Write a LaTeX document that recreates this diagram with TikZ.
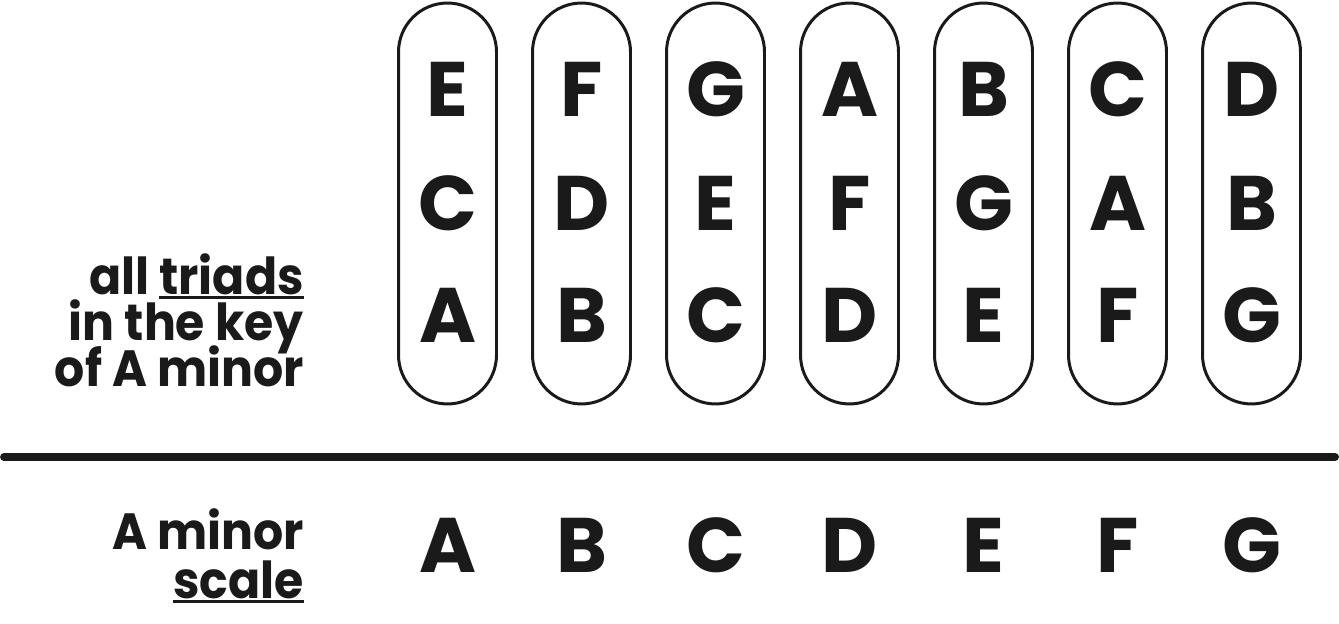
\documentclass[tikz,border=0pt]{standalone}
\usepackage{fontspec}
\setmainfont{Poppins}
\newfontfamily\sidefont{Poppins}[FakeStretch=0.93]
\usepackage{tikz}
\usetikzlibrary{calc}
\definecolor{ink}{HTML}{1A1A1A}
\tikzstyle{pill}=[draw=ink, line width=1.7pt, rounded corners=0.98cm, minimum width=1.96cm, minimum height=8.02cm, inner sep=0pt]
\tikzstyle{notename}=[text=ink, font=\fontsize{44}{44}\selectfont\bfseries, anchor=base, inner sep=0pt]
\tikzstyle{sidetext}=[text=ink, font=\fontsize{29}{29}\sidefont\bfseries, anchor=base east, inner sep=0pt]
\newcommand{\ulword}[1]{\setbox0\hbox{#1}\rlap{\color{ink}\rule[-2.3pt]{\wd0}{1.7pt}}\box0}

\begin{document}
\begin{tikzpicture}[x=0.02cm, y=-0.02cm]
\useasboundingbox (0,0) rectangle (1339,624);
% one pill per triad, root at the bottom
\foreach \ft/\td/\rt [count=\i from 0] in {E/C/A, F/D/B, G/E/C, A/F/D, B/G/E, C/A/F, D/B/G} {
	\node[pill] (pill\i) at (447.5+134*\i, 203.5) {};
	\node[notename] (fifth\i) at (447.5+134*\i, 117) {\ft};
	\node[notename] (third\i) at (447.5+134*\i, 231) {\td};
	\node[notename] (root\i) at (447.5+134*\i, 343) {\rt};
	\node[notename] (scale\i) at (447.5+134*\i, 573) {\rt};
}
\coordinate (ruleL) at (4,457);
\coordinate (ruleR) at (1335,457);
\draw[ink, line width=4.5pt, line cap=round] (ruleL) -- (ruleR);
\node[sidetext] (triads1) at (304,295) {all \ulword{triads}};
\node[sidetext] (triads2) at (304,341) {in the key};
\node[sidetext] (triads3) at (304,387) {of A minor};
\node[sidetext] (minor1) at (304,550) {A minor};
\node[sidetext] (minor2) at (304,599) {\ulword{scale}};
\end{tikzpicture}
\end{document}
